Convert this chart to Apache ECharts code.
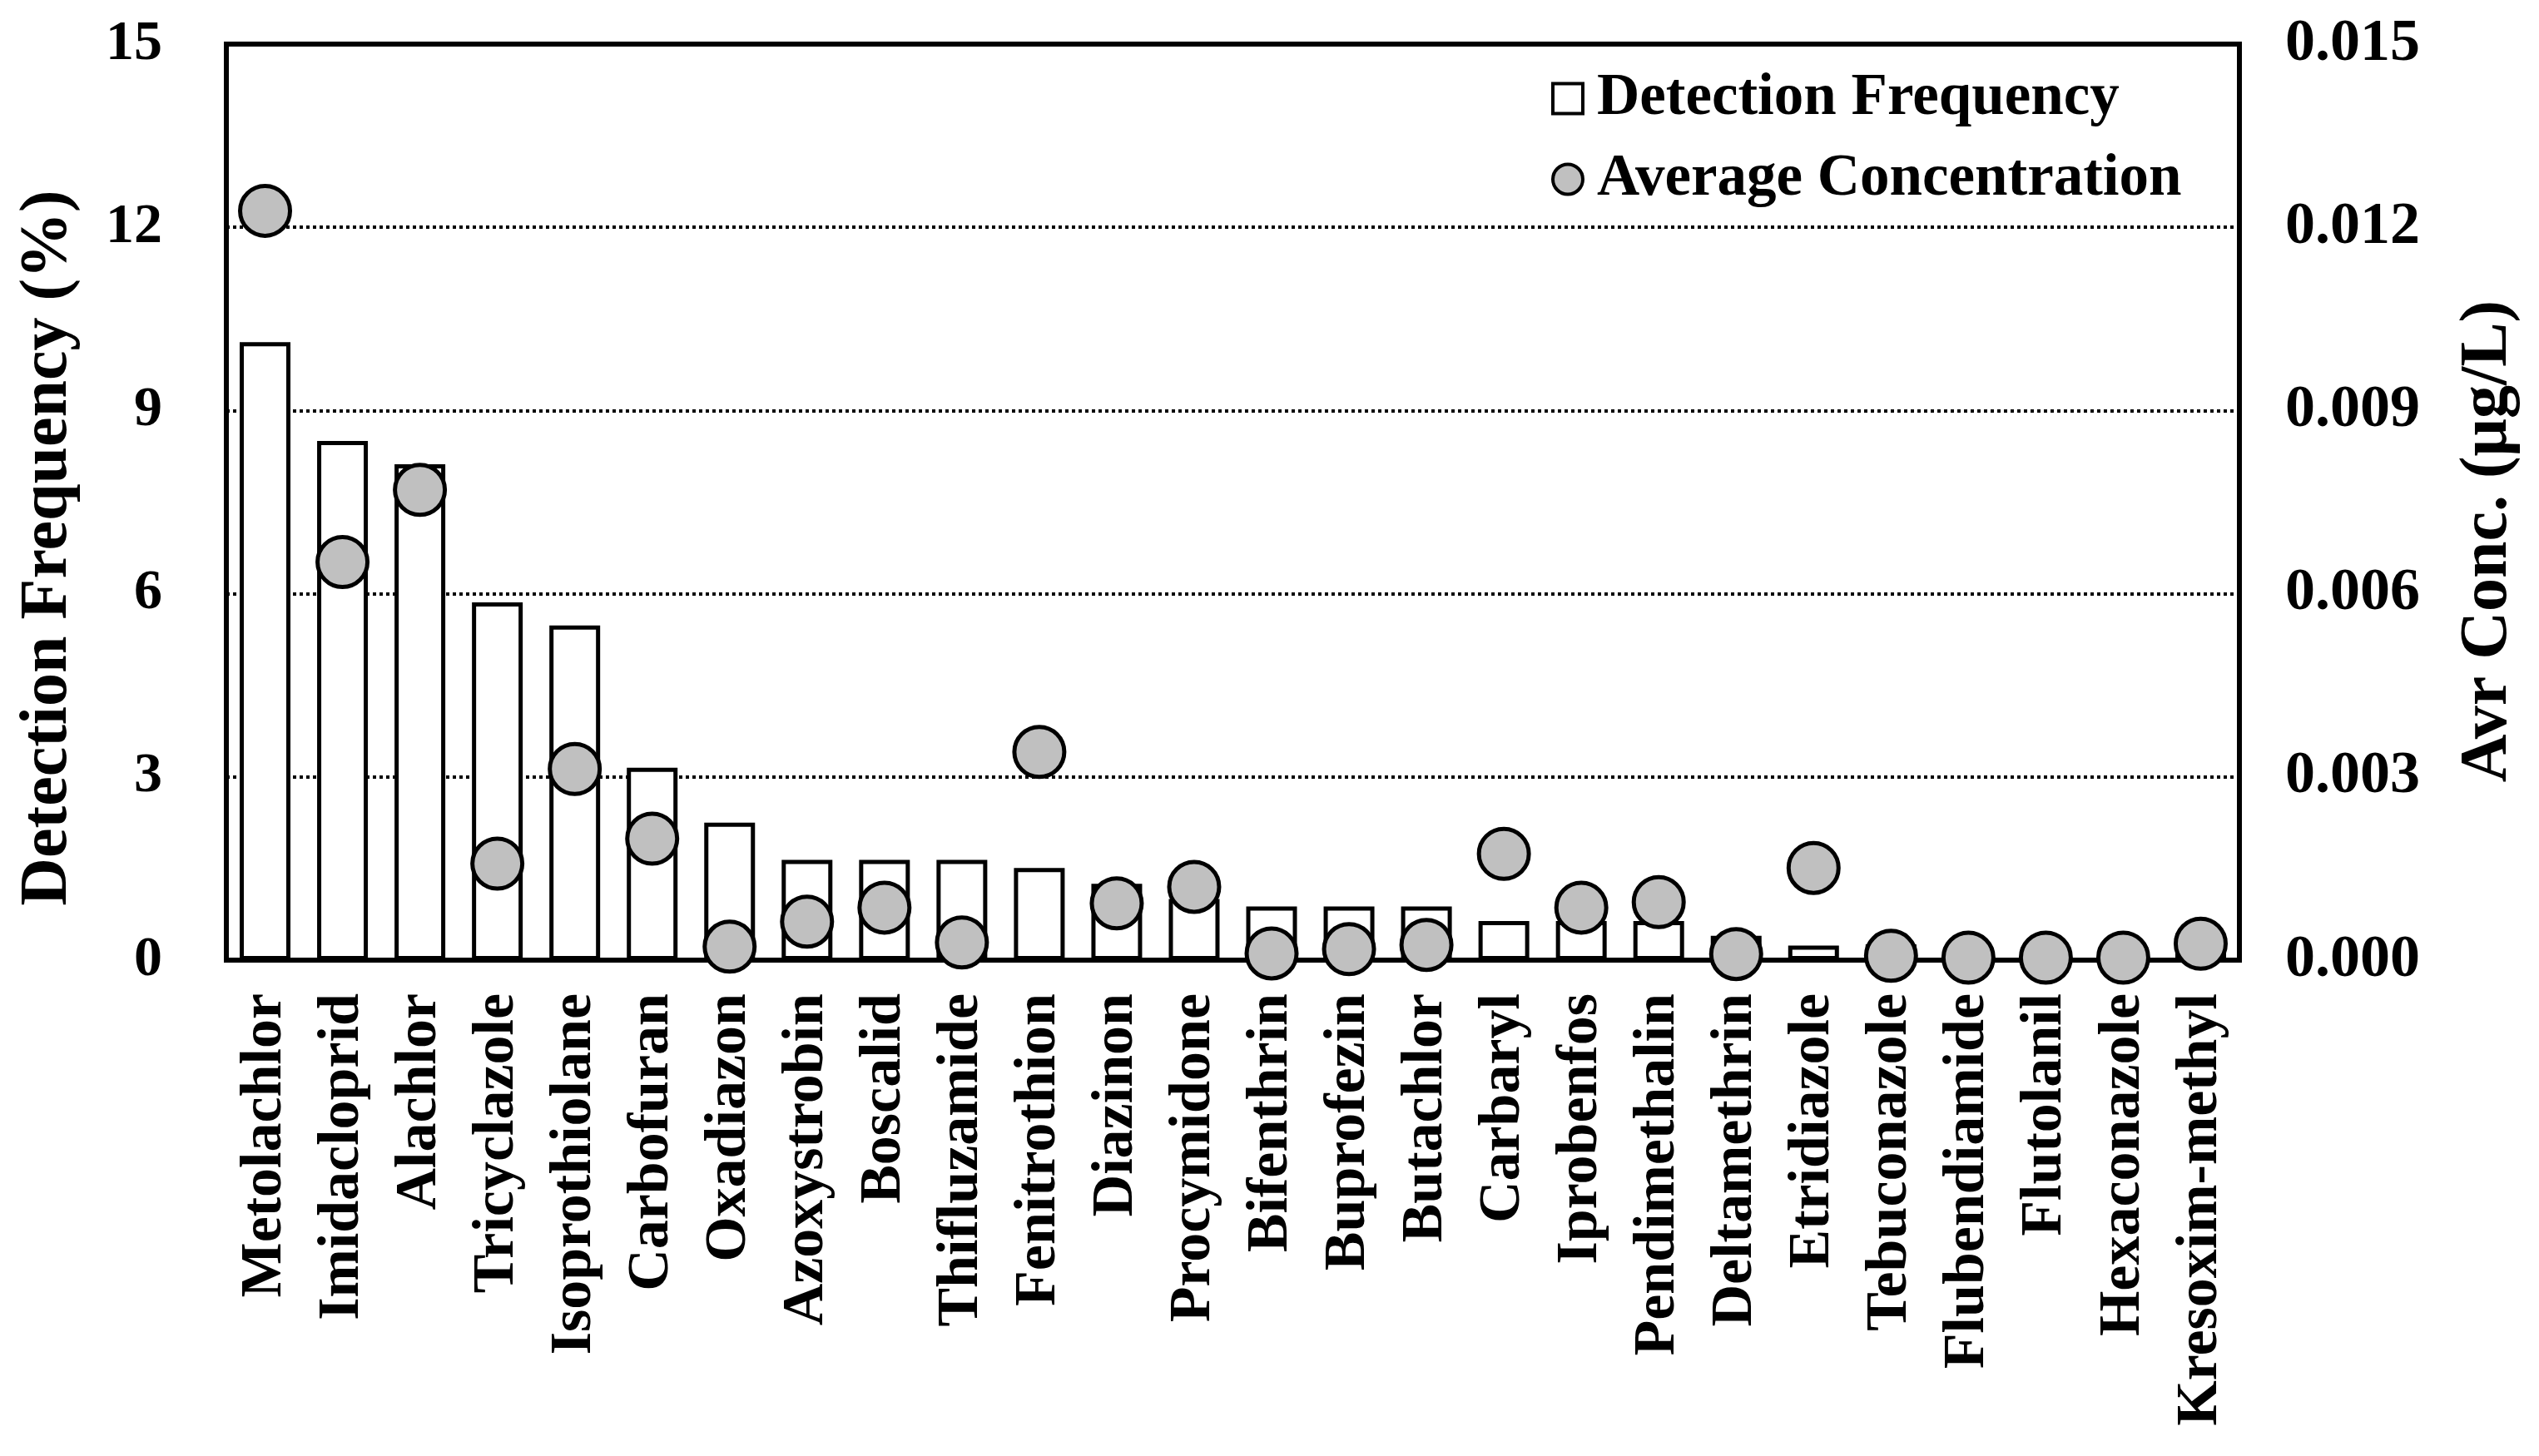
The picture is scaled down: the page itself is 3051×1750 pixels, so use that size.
<!DOCTYPE html>
<html>
<head>
<meta charset="utf-8">
<script src="https://cdn.jsdelivr.net/npm/echarts@6/dist/echarts.min.js"></script>
<style>
html,body{margin:0;padding:0;background:#fff;}
#chart{width:3051px;height:1750px;}
</style>
</head>
<body>
<div id="chart"></div>
<script>
const categories = ['Metolachlor','Imidacloprid','Alachlor','Tricyclazole','Isoprothiolane','Carbofuran','Oxadiazon','Azoxystrobin','Boscalid','Thifluzamide','Fenitrothion','Diazinon','Procymidone','Bifenthrin','Buprofezin','Butachlor','Carbaryl','Iprobenfos','Pendimethalin','Deltamethrin','Etridiazole','Tebuconazole','Flubendiamide','Flutolanil','Hexaconazole','Kresoxim-methyl'];
const detectionFrequency = [10.12, 8.5, 8.12, 5.86, 5.48, 3.15, 2.25, 1.64, 1.64, 1.64, 1.51, 1.25, 1.0, 0.88, 0.88, 0.88, 0.64, 0.64, 0.64, 0.4, 0.24, 0.26, 0.14, 0.14, 0.14, 0.14];
const averageConcentration = [0.01227, 0.00652, 0.0077, 0.00158, 0.00313, 0.00199, 0.00022, 0.00063, 0.00086, 0.00029, 0.00341, 0.00093, 0.0012, 0.00011, 0.00018, 0.00025, 0.00174, 0.00086, 0.00095, 0.0001, 0.00151, 0.00007, 0.00004, 0.00004, 0.00004, 0.00027];
const leftTicks = {min: 0, max: 15, interval: 3};
const rightTicks = {min: 0, max: 0.015, interval: 0.003};

const FONT = "'Liberation Serif', 'Times New Roman', serif";
const chart = echarts.init(document.getElementById('chart'));
chart.setOption({
  backgroundColor: '#fff',
  animation: false,
  grid: {left: 272, right: 360, top: 53, bottom: 596, show: true, borderColor: '#000', borderWidth: 6, backgroundColor: 'transparent'},
  legend: {
    orient: 'vertical', left: 1864, top: 83, padding: 0,
    itemWidth: 36, itemHeight: 36, itemGap: 26,
    textStyle: {fontFamily: FONT, fontWeight: 'bold', fontSize: 71, lineHeight: 71, color: '#000', padding: [0, 0, 0, 12]},
    data: [
      {name: 'Detection Frequency', icon: 'rect', itemStyle: {color: '#fff', borderColor: '#000', borderWidth: 4}},
      {name: 'Average Concentration', icon: 'circle', itemStyle: {color: '#c0c0c0', borderColor: '#000', borderWidth: 4}}
    ]
  },
  xAxis: {
    type: 'category', data: categories,
    axisLine: {show: true, lineStyle: {color: '#000', width: 6}},
    axisTick: {show: false},
    axisLabel: {interval: 0, rotate: 90, margin: 40, fontFamily: FONT, fontWeight: 'bold', fontSize: 70, color: '#000'}
  },
  yAxis: [
    {
      type: 'value', min: leftTicks.min, max: leftTicks.max, interval: leftTicks.interval,
      name: 'Detection Frequency (%)', nameLocation: 'middle', nameGap: 174, nameRotate: 90,
      nameTextStyle: {fontFamily: FONT, fontWeight: 'bold', fontSize: 80, color: '#000', padding: [0, 110, 0, 0]},
      axisLine: {show: true, lineStyle: {color: '#000', width: 6}},
      axisTick: {show: false},
      axisLabel: {margin: 77, fontFamily: FONT, fontWeight: 'bold', fontSize: 68, color: '#000'},
      splitLine: {show: true, lineStyle: {color: '#000', width: 4, type: [4, 4]}}
    },
    {
      type: 'value', position: 'right', min: rightTicks.min, max: rightTicks.max, interval: rightTicks.interval,
      name: 'Avr Conc. (μg/L)', nameLocation: 'middle', nameGap: 259, nameRotate: 90,
      nameTextStyle: {fontFamily: FONT, fontWeight: 'bold', fontSize: 80, color: '#000', padding: [0, 94, 0, 0]},
      axisLine: {show: true, lineStyle: {color: '#000', width: 6}},
      axisTick: {show: false},
      axisLabel: {margin: 55, fontFamily: FONT, fontWeight: 'bold', fontSize: 72, color: '#000', formatter: v => v.toFixed(3)},
      splitLine: {show: false}
    }
  ],
  series: [
    {
      name: 'Detection Frequency', type: 'bar', yAxisIndex: 0, data: detectionFrequency,
      barWidth: 61,
      itemStyle: {color: '#fff', borderColor: '#000', borderWidth: 5}
    },
    {
      name: 'Average Concentration', type: 'scatter', yAxisIndex: 1, data: averageConcentration,
      symbol: 'circle', symbolSize: 60, z: 5,
      itemStyle: {color: '#c0c0c0', borderColor: '#000', borderWidth: 5, opacity: 1}
    }
  ]
});
</script>
</body>
</html>
